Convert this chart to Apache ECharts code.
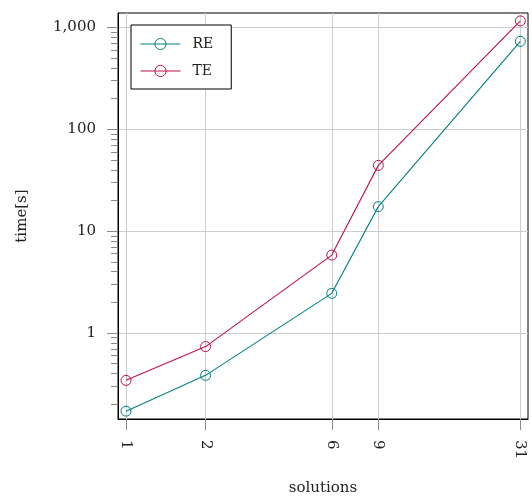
<!DOCTYPE html>
<html>
<head>
<meta charset="utf-8">
<script src="https://cdn.jsdelivr.net/npm/echarts@6/dist/echarts.min.js"></script>
<style>
  html, body { margin: 0; padding: 0; background: #fff; }
  #chart { width: 532px; height: 501px; }
</style>
</head>
<body>
<div id="chart"></div>
<script>
// Number of solutions (x, log scale)
const solutions = [1, 2, 6, 9, 31];
// Run times in seconds
const timeRE = [0.171, 0.384, 2.45, 17.4, 729];
const timeTE = [0.343, 0.736, 5.82, 44.2, 1157];
// Axis ticks
const xTicks = [1, 2, 6, 9, 31];
const yMajorTicks = [1, 10, 100, 1000];
const yMinorTicks = [0.2, 0.3, 0.4, 0.5, 0.6, 0.7, 0.8, 0.9,
                     2, 3, 4, 5, 6, 7, 8, 9,
                     20, 30, 40, 50, 60, 70, 80, 90,
                     200, 300, 400, 500, 600, 700, 800, 900];

const FONT = 'DejaVu Serif';
const TEXT = '#222';
const TEAL = '#008080';
const RED = '#c0104a';
const GRID = '#cccccc';
const TICK = '#8a8a8a';

const xMin = Math.pow(10, -0.0303), xMax = Math.pow(10, 1.5204);
const yMin = Math.pow(10, -0.844), yMax = Math.pow(10, 3.141);

function pairs(ys) { return solutions.map((x, i) => [x, ys[i]]); }

function lineSeries(name, ys, color) {
  return {
    name: name,
    type: 'line',
    color: color,
    data: pairs(ys),
    symbol: 'circle',
    symbolSize: 10,
    showSymbol: true,
    itemStyle: { color: 'rgba(255,255,255,0)', borderColor: color, borderWidth: 1 },
    lineStyle: { color: color, width: 1.1 },
    emphasis: { disabled: true },
    z: 3
  };
}

const chart = echarts.init(document.getElementById('chart'), null, { renderer: 'canvas' });
chart.setOption({
  animation: false,
  backgroundColor: '#fff',
  textStyle: { fontFamily: FONT, color: TEXT },
  grid: {
    left: 118, top: 13, right: 4, bottom: 79,
    show: true, borderColor: '#000', borderWidth: 1, backgroundColor: 'transparent'
  },
  legend: {
    left: 131, top: 25,
    orient: 'vertical',
    backgroundColor: '#fff',
    borderColor: '#000', borderWidth: 1, borderRadius: 0,
    padding: [12, 18, 11, 9],
    itemWidth: 40, itemHeight: 14, itemGap: 13,
    itemStyle: { borderWidth: 1 },
    lineStyle: { width: 1 },
    textStyle: { fontFamily: FONT, fontSize: 14, color: TEXT, padding: [0, 0, 0, 7] },
    data: ['RE', 'TE']
  },
  xAxis: {
    type: 'log', logBase: 10,
    min: xMin, max: xMax,
    name: 'solutions', nameLocation: 'middle', nameGap: 62,
    nameTextStyle: { fontFamily: FONT, fontSize: 15, color: TEXT },
    axisLine: { show: true, lineStyle: { color: '#000', width: 1 } },
    axisTick: { show: true, inside: false, length: 11, customValues: xTicks, lineStyle: { color: TICK } },
    axisLabel: {
      customValues: xTicks, rotate: -90, margin: 21,
      fontFamily: FONT, fontSize: 15, color: TEXT,
      formatter: v => String(Math.round(v))
    },
    splitLine: { show: true, lineStyle: { color: GRID, width: 1 } },
    minorTick: { show: false }, minorSplitLine: { show: false }
  },
  yAxis: [{
    type: 'log', logBase: 10,
    min: yMin, max: yMax,
    name: 'time[s]', nameLocation: 'middle', nameGap: 88, nameRotate: 90,
    nameTextStyle: { fontFamily: FONT, fontSize: 15, color: TEXT },
    axisLine: { show: true, lineStyle: { color: '#000', width: 1 } },
    axisTick: { show: true, inside: false, length: 11, customValues: yMajorTicks, lineStyle: { color: TICK } },
    axisLabel: {
      customValues: yMajorTicks, margin: 22,
      fontFamily: FONT, fontSize: 15, color: TEXT,
      formatter: v => Math.round(v).toLocaleString('en-US')
    },
    splitLine: { show: true, lineStyle: { color: GRID, width: 1 } }
  }, {
    type: 'log', logBase: 10,
    min: yMin, max: yMax,
    position: 'left',
    axisLine: { show: false },
    axisTick: { show: true, inside: false, length: 7, customValues: yMinorTicks, lineStyle: { color: TICK } },
    axisLabel: { show: false },
    splitLine: { show: false }
  }],
  series: [lineSeries('RE', timeRE, TEAL), lineSeries('TE', timeTE, RED)]
});
</script>
</body>
</html>
